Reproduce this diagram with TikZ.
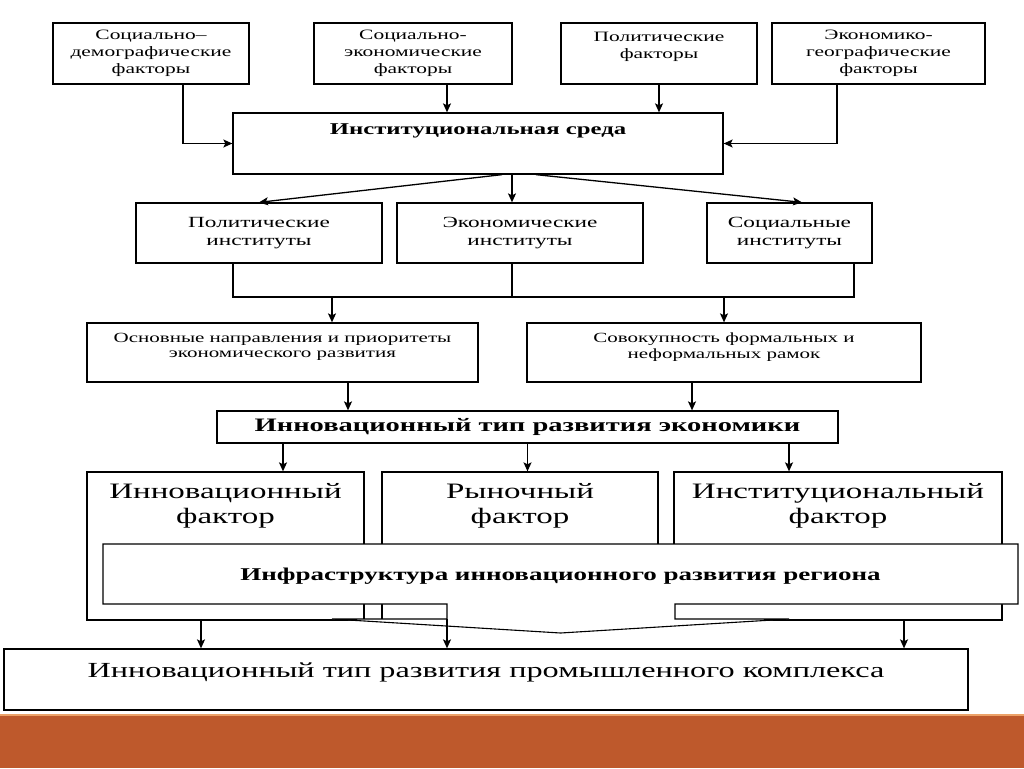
\documentclass[tikz,border=0pt]{standalone}
\usepackage{fontspec}
\setmainfont{Liberation Serif}[FakeStretch=1.5]
\usetikzlibrary{arrows.meta, positioning}
\tikzset{>={Stealth[length=9pt,width=8pt,inset=2pt]}}
\definecolor{bandred}{RGB}{190,89,44}
\definecolor{bandlight}{RGB}{236,162,104}

\begin{document}
\begin{tikzpicture}[x=1pt, y=-1pt, line width=1.3pt,
    box/.style 2 args={draw, fill=white, inner sep=0pt, align=center,
      minimum width=#1, minimum height=#2},
    lbl/.style={anchor=north, align=center, inner sep=0pt},
    ftop/.style={font=\fontsize{14.3}{17}\selectfont},
    fenv/.style={font=\fontsize{16.5}{20}\selectfont\bfseries},
    finst/.style={font=\fontsize{15.5}{18}\selectfont},
    fmid/.style={font=\fontsize{14}{15.5}\selectfont},
    fecon/.style={font=\fontsize{19}{22}\selectfont\bfseries},
    ffac/.style={font=\fontsize{22}{25}\selectfont},
    finfra/.style={font=\fontsize{18}{22}\selectfont\bfseries},
    ffin/.style={font=\fontsize{21.5}{24}\selectfont}]
  \useasboundingbox (0,0) rectangle (1024,768);
  \fill[bandred] (0,716) rectangle (1024,768);
  \draw[bandlight, line width=2pt] (0,715) -- (1024,715);

  % factors -> environment
  \node[box={196}{61}, ftop] (sdem) at (151,53.5) {Социально–\\демографические\\факторы};
  \node[box={198}{61}, ftop] (seco) at (413,53.5) {Социально-\\экономические\\факторы};
  \node[box={196}{61}, label={[lbl,yshift=-9pt,ftop]north:{Политические\\факторы}}] (pfac) at (659,53.5) {};
  \node[box={213}{61}, ftop] (egeo) at (878.5,53.5) {Экономико-\\географические\\факторы};
  \node[box={490}{61}, label={[lbl,yshift=-11pt,fenv]north:Институциональная среда}] (env) at (478,143.5) {};
  \draw[->] ([xshift=32pt]sdem.south) |- (env.west);
  \draw[->] ([xshift=34pt]seco.south) -- ([xshift=34pt]seco.south |- env.north);
  \draw[->] (pfac.south) -- (pfac.south |- env.north);
  \draw[->] ([xshift=-41.5pt]egeo.south) |- (env.east);

  % institutes
  \node[box={246}{60}, finst] (pins) at (259,233) {Политические\\институты};
  \node[box={246}{60}, finst] (eins) at (520,233) {Экономические\\институты};
  \node[box={165}{60}, finst] (sins) at (789.5,233) {Социальные\\институты};
  \draw[->] ([xshift=24pt]env.south) -- (pins.north);
  \draw[->] ([xshift=34pt]env.south) -- ([xshift=34pt]env.south |- eins.north);
  \draw[->] ([xshift=58pt]env.south) -- ([xshift=12.5pt]sins.north);

  \coordinate (bus) at (520,297);
  \draw ([xshift=-26pt]pins.south) |- (bus) -| ([xshift=64.5pt]sins.south);
  \draw ([xshift=-8pt]eins.south) -- ([xshift=-8pt]eins.south |- bus);

  % directions and frames
  \node[box={391}{59}, label={[lbl,yshift=-10pt,fmid]north:{Основные направления и приоритеты\\экономического развития}}] (dir) at (282.5,352.5) {};
  \node[box={394}{59}, label={[lbl,yshift=-10pt,fmid]north:{Совокупность формальных и\\неформальных рамок}}] (frm) at (724,352.5) {};
  \draw[->] ([xshift=49.5pt]dir.north |- bus) -- ([xshift=49.5pt]dir.north);
  \draw[->] (frm.north |- bus) -- (frm.north);

  \node[box={621}{32}, fecon] (econ) at (527.5,427) {Инновационный тип развития экономики};
  \draw[->] ([xshift=65.5pt]dir.south) -- ([xshift=65.5pt]dir.south |- econ.north);
  \draw[->] ([xshift=-32pt]frm.south) -- ([xshift=-32pt]frm.south |- econ.north);

  % three factors
  \node[box={277}{148}, label={[lbl,yshift=-11.5pt,ffac]north:{Инновационный\\фактор}}] (ifac) at (225.5,546) {};
  \node[box={276}{148}, label={[lbl,yshift=-11.5pt,ffac]north:{Рыночный\\фактор}}] (mfac) at (520,546) {};
  \node[box={328}{148}, label={[lbl,yshift=-11.5pt,ffac]north:{Институциональный\\фактор}}] (tfac) at (838,546) {};
  \draw[->] ([xshift=57.5pt]ifac.north |- econ.south) -- ([xshift=57.5pt]ifac.north);
  \draw[->] (econ.south) -- (econ.south |- mfac.north);
  \draw[->] ([xshift=-49pt]tfac.north |- econ.south) -- ([xshift=-49pt]tfac.north);

  % infrastructure (arrow callout)
  \draw[fill=white, line width=1.1pt] (103,544) -- (1018,544) -- (1018,604) -- (675,604)
    -- (675,619) -- (789,619) -- (560.5,633) -- (332,619) -- (447,619) -- (447,604)
    -- (103,604) -- cycle;
  \node[finfra] (infra) at (560.5,576) {Инфраструктура инновационного развития региона};
  \coordinate (shaft) at (447,619);

  \node[box={964}{61}, label={[lbl,yshift=-14pt,ffin]north:{Инновационный тип развития промышленного комплекса}}] (ind) at (486,679.5) {};
  \draw[->] ([xshift=-24.5pt]ifac.south) -- ([xshift=-24.5pt]ifac.south |- ind.north);
  \draw[->] (shaft) -- (shaft |- ind.north);
  \draw[->] ([xshift=66pt]tfac.south) -- ([xshift=66pt]tfac.south |- ind.north);
\end{tikzpicture}
\end{document}
